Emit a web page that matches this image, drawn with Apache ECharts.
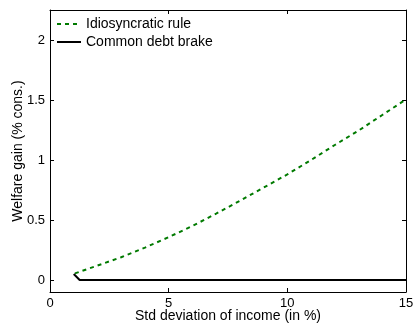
<!DOCTYPE html>
<html>
<head>
<meta charset="utf-8">
<script src="https://cdn.jsdelivr.net/npm/echarts@6/dist/echarts.min.js"></script>
<style>html,body{margin:0;padding:0;background:#fff}#c{width:415px;height:324px}</style>
</head>
<body>
<div id="c"></div>
<script>
const idioX = [1.05, 2, 3, 4, 5, 6, 7, 8, 9, 10, 11, 12, 13, 14, 15];
const idioY = [0.055, 0.12, 0.19, 0.27, 0.357, 0.45, 0.553, 0.66, 0.77, 0.88, 1.0, 1.125, 1.245, 1.375, 1.505];
const commonX = [1.0, 1.25, 15];
const commonY = [0.05, 0.0, 0.0];
const yTicks = [0, 0.5, 1, 1.5, 2];

const font = 'Liberation Sans, Arial, Helvetica, sans-serif';
const chart = echarts.init(document.getElementById('c'), null, {renderer: 'canvas'});
const zip = (a, b) => a.map((v, i) => [v, b[i]]);

const xBase = {
  type: 'value', min: 0, max: 15, interval: 5,
  axisLine: {show: true, onZero: false, lineStyle: {color: '#000', width: 1}},
  axisTick: {show: true, inside: true, length: 4, lineStyle: {color: '#000'}},
  splitLine: {show: false}
};
const yBase = {
  type: 'value', min: -0.1, max: 2.25,
  axisLine: {show: true, onZero: false, lineStyle: {color: '#000', width: 1}},
  axisTick: {show: true, inside: true, length: 4, customValues: yTicks, lineStyle: {color: '#000'}},
  splitLine: {show: false}
};

chart.setOption({
  animation: false,
  backgroundColor: '#fff',
  textStyle: {fontFamily: font},
  grid: {left: 50, right: 9, top: 10, bottom: 32, containLabel: false, outerBoundsMode: 'none'},
  legend: {
    orient: 'vertical', left: 56, top: 17, padding: 0,
    itemWidth: 24, itemHeight: 14, itemGap: 4,
    itemStyle: {opacity: 0},
    textStyle: {fontFamily: font, fontSize: 14, color: '#000'},
    data: ['Idiosyncratic rule', 'Common debt brake']
  },
  xAxis: [
    Object.assign({}, xBase, {
      position: 'bottom',
      name: 'Std deviation of income (in %)', nameLocation: 'middle', nameGap: 17, nameMoveOverlap: false,
      nameTextStyle: {fontFamily: font, fontSize: 14, color: '#000'},
      axisLabel: {show: true, color: '#000', fontFamily: font, fontSize: 13, margin: 5}
    }),
    Object.assign({}, xBase, {position: 'top', axisLabel: {show: false}})
  ],
  yAxis: [
    Object.assign({}, yBase, {
      position: 'left',
      name: 'Welfare gain (% cons.)', nameLocation: 'middle', nameGap: 25, nameMoveOverlap: false,
      nameTextStyle: {fontFamily: font, fontSize: 14, color: '#000'},
      axisLabel: {show: true, color: '#000', fontFamily: font, fontSize: 13, margin: 5, customValues: yTicks}
    }),
    Object.assign({}, yBase, {position: 'right', axisLabel: {show: false}})
  ],
  series: [
    {
      name: 'Idiosyncratic rule', type: 'line', data: zip(idioX, idioY),
      showSymbol: false, symbol: 'none',
      lineStyle: {color: '#007a00', width: 2, type: [4, 4]},
      itemStyle: {color: '#007a00'}
    },
    {
      name: 'Common debt brake', type: 'line', data: zip(commonX, commonY),
      showSymbol: false, symbol: 'none',
      lineStyle: {color: '#000', width: 2},
      itemStyle: {color: '#000'}
    }
  ]
});
</script>
</body>
</html>
